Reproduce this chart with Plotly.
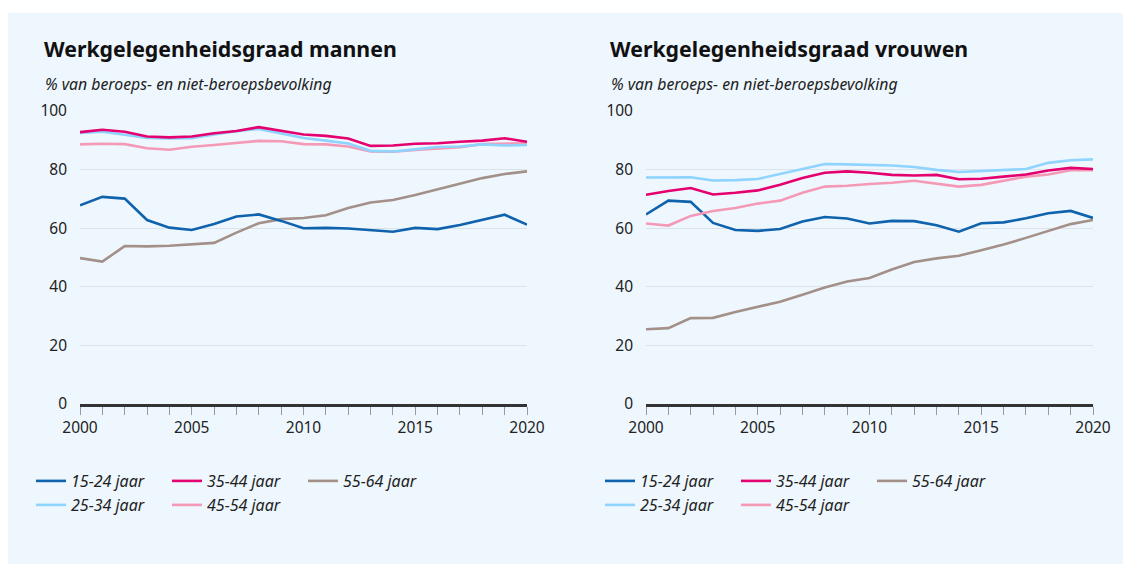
import plotly.graph_objects as go

years = list(range(2000, 2021))

groups = ["15-24 jaar", "25-34 jaar", "35-44 jaar", "45-54 jaar", "55-64 jaar"]

men_15_24 = [67.8, 70.7, 70.1, 62.8, 60.2, 59.4, 61.4, 64.0, 64.7, 62.5, 60.0, 60.1, 59.9, 59.4, 58.8, 60.1, 59.7, 61.1, 62.8, 64.6, 61.2]
men_25_34 = [92.5, 92.9, 91.9, 90.8, 90.6, 90.7, 92.0, 93.1, 93.9, 92.4, 90.8, 89.9, 88.9, 86.4, 86.2, 86.9, 87.7, 87.9, 88.6, 88.2, 88.4]
men_35_44 = [92.8, 93.6, 92.9, 91.3, 91.0, 91.3, 92.4, 93.2, 94.5, 93.3, 92.0, 91.5, 90.6, 88.1, 88.2, 88.8, 89.0, 89.5, 89.9, 90.7, 89.5]
men_45_54 = [88.6, 88.8, 88.7, 87.3, 86.8, 87.8, 88.4, 89.0, 89.8, 89.7, 88.7, 88.6, 87.9, 86.2, 86.1, 86.7, 87.2, 87.6, 88.7, 88.9, 89.0]
men_55_64 = [49.8, 48.6, 53.9, 53.8, 54.0, 54.5, 55.0, 58.5, 61.7, 63.1, 63.5, 64.4, 66.9, 68.8, 69.6, 71.3, 73.2, 75.3, 77.1, 78.5, 79.4]

women_15_24 = [64.7, 69.4, 69.0, 61.8, 59.4, 59.1, 59.7, 62.3, 63.8, 63.3, 61.6, 62.5, 62.4, 61.0, 58.8, 61.7, 62.0, 63.4, 65.1, 65.9, 63.5]
women_25_34 = [77.3, 77.3, 77.4, 76.3, 76.4, 76.8, 78.5, 80.3, 81.9, 81.8, 81.7, 81.4, 80.9, 79.9, 79.2, 79.5, 79.8, 80.2, 82.3, 83.2, 83.5]
women_35_44 = [71.4, 72.7, 73.7, 71.5, 72.1, 72.9, 74.8, 77.1, 78.9, 79.4, 78.9, 78.2, 78.0, 78.2, 76.7, 76.9, 77.6, 78.3, 79.7, 80.6, 80.2]
women_45_54 = [61.6, 60.9, 64.2, 65.9, 66.9, 68.4, 69.4, 72.1, 74.2, 74.5, 75.1, 75.5, 76.2, 75.3, 74.2, 74.8, 76.3, 77.6, 78.3, 79.8, 79.8]
women_55_64 = [25.5, 25.9, 29.3, 29.4, 31.4, 33.2, 34.9, 37.3, 39.8, 41.8, 43.0, 45.9, 48.5, 49.7, 50.6, 52.5, 54.4, 56.7, 59.0, 61.4, 62.8]

x_ticks = [2000, 2005, 2010, 2015, 2020]
y_ticks = [0, 20, 40, 60, 80, 100]

titles = ["Werkgelegenheidsgraad mannen", "Werkgelegenheidsgraad vrouwen"]
subtitle = "% van beroeps- en niet-beroepsbevolking"

colors = ["#0f62ac", "#8fd3ff", "#e4006f", "#f59ab6", "#a39088"]
# draw order (back to front) and legend placement
draw_order = [4, 0, 3, 1, 2]
row_of = {0: 0, 2: 0, 4: 0, 1: 1, 3: 1}
rank_of = {0: 1, 2: 2, 4: 3, 1: 1, 3: 2}

# the page body adds an 8px margin; size the figure so it fits the window exactly
OFF = 8
W, H = 1131 - 2 * OFF, 572 - 2 * OFF
FONT = "Noto Sans"

fig = go.Figure()

panels = [
    (["x", "y"], [men_15_24, men_25_34, men_35_44, men_45_54, men_55_64], ["legend", "legend2"]),
    (["x2", "y2"], [women_15_24, women_25_34, women_35_44, women_45_54, women_55_64], ["legend3", "legend4"]),
]

for (xa, ya), series, legs in panels:
    for i in draw_order:
        fig.add_trace(go.Scatter(
            x=years, y=series[i], mode="lines", name=groups[i],
            line=dict(color=colors[i], width=2.6),
            xaxis=xa, yaxis=ya,
            legend=legs[row_of[i]], legendrank=rank_of[i],
            hoverinfo="x+y+name",
        ))

def px_x(p):
    return (p - OFF) / W

def px_y(p):
    return 1 - (p - OFF) / H

ydom = [px_y(404), px_y(111)]
axis_common_x = dict(
    range=[2000, 2020], tickvals=x_ticks, ticks="outside", ticklen=8, tickcolor="#9a9a9a",
    tickwidth=1.2, showline=True, linecolor="#333333", linewidth=2.5, showgrid=False,
    zeroline=False, tickfont=dict(family=FONT, size=15.5, color="#222222"),
    minor=dict(dtick=1, tick0=2000, ticks="outside", ticklen=8, tickcolor="#9a9a9a", tickwidth=1.2, showgrid=False),
    fixedrange=True, automargin=False,
)
axis_common_y = dict(
    range=[0, 100], tickvals=y_ticks, showgrid=True, gridcolor="#dbe3ea", gridwidth=1,
    zeroline=False, showline=False, ticks="", ticklabelstandoff=12,
    tickfont=dict(family=FONT, size=15.5, color="#222222"), fixedrange=True, automargin=False,
)

fig.update_layout(
    width=W, height=H, autosize=False,
    margin=dict(l=0, r=0, t=0, b=0, autoexpand=False),
    paper_bgcolor="#eef7fe", plot_bgcolor="rgba(0,0,0,0)",
    xaxis=dict(domain=[px_x(80), px_x(527)], anchor="y", **axis_common_x),
    yaxis=dict(domain=ydom, anchor="x", **axis_common_y),
    xaxis2=dict(domain=[px_x(646), px_x(1093)], anchor="y2", **axis_common_x),
    yaxis2=dict(domain=ydom, anchor="x2", **axis_common_y),
    showlegend=True,
    hovermode="closest",
)

leg_common = dict(orientation="h", xanchor="left", yanchor="middle", bgcolor="rgba(0,0,0,0)",
                  font=dict(family=FONT, size=16, color="#222222", style="italic"),
                  entrywidth=91, entrywidthmode="pixels", itemwidth=30,
                  traceorder="normal", xref="paper", yref="paper")
fig.update_layout(
    legend=dict(x=px_x(31), y=px_y(481), **leg_common),
    legend2=dict(x=px_x(31), y=px_y(505), **leg_common),
    legend3=dict(x=px_x(600), y=px_y(481), **leg_common),
    legend4=dict(x=px_x(600), y=px_y(505), **leg_common),
)

# white strip above the panel
fig.add_shape(type="rect", xref="paper", yref="paper", x0=-0.01, x1=1.01, y0=px_y(13), y1=1.01,
              fillcolor="#ffffff", line=dict(width=0), layer="below")

for k, x0 in enumerate([42, 608]):
    fig.add_annotation(text="<b>" + titles[k] + "</b>", xref="paper", yref="paper",
                       x=px_x(x0), y=px_y(48), xanchor="left", yanchor="middle", showarrow=False,
                       font=dict(family=FONT, size=21.3, color="#111111"))
    fig.add_annotation(text="<i>" + subtitle + "</i>", xref="paper", yref="paper",
                       x=px_x(x0 + 1), y=px_y(84), xanchor="left", yanchor="middle", showarrow=False,
                       font=dict(family=FONT, size=15.8, color="#222222"))

fig.write_html("out.html")
